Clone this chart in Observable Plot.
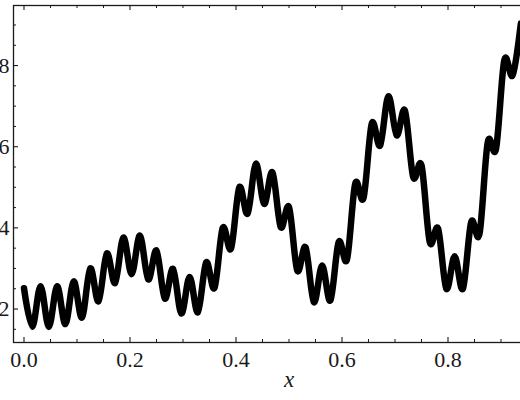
<!DOCTYPE html>
<html>
<head>
<meta charset="utf-8">
<script src="https://cdn.jsdelivr.net/npm/d3@7"></script>
<script src="https://cdn.jsdelivr.net/npm/@observablehq/plot@0.6"></script>
<style>
  html, body { margin: 0; padding: 0; background: white; overflow: hidden; width: 520px; height: 400px; }
  #chart { width: 520px; height: 400px; overflow: hidden; }
  #chart svg { display: block; margin-left: -30px; max-width: none !important; width: 584px; height: 400px !important; }
</style>
</head>
<body>
<div id="chart"></div>
<script>
// x positions of the curve's peaks and troughs
const xValues = [0, 0.015625, 0.03125, 0.046875, 0.0625, 0.078125, 0.09375, 0.109375, 0.125, 0.140625,
  0.15625, 0.171875, 0.1875, 0.203125, 0.21875, 0.234375, 0.25, 0.265625, 0.28125, 0.296875,
  0.3125, 0.328125, 0.34375, 0.359375, 0.375, 0.390625, 0.40625, 0.421875, 0.4375, 0.453125,
  0.46875, 0.484375, 0.5, 0.515625, 0.53125, 0.546875, 0.5625, 0.578125, 0.59375, 0.609375,
  0.625, 0.640625, 0.65625, 0.671875, 0.6875, 0.703125, 0.71875, 0.734375, 0.75, 0.765625,
  0.78125, 0.796875, 0.8125, 0.828125, 0.84375, 0.859375, 0.875, 0.890625, 0.90625, 0.921875,
  0.9375];
// y values at those positions (estimated)
const yValues = [0.251, 0.156, 0.256, 0.156, 0.256, 0.163, 0.268, 0.179, 0.300, 0.219,
  0.337, 0.264, 0.376, 0.286, 0.381, 0.273, 0.344, 0.226, 0.299, 0.189,
  0.279, 0.192, 0.315, 0.252, 0.400, 0.349, 0.500, 0.435, 0.558, 0.459,
  0.537, 0.402, 0.451, 0.295, 0.352, 0.217, 0.307, 0.221, 0.365, 0.322,
  0.509, 0.474, 0.657, 0.603, 0.724, 0.628, 0.689, 0.525, 0.554, 0.365,
  0.398, 0.250, 0.330, 0.250, 0.414, 0.385, 0.611, 0.595, 0.813, 0.776,
  0.904];

const xMajorTicks = [0.0, 0.2, 0.4, 0.6, 0.8];
const xMinorTicks = [0.05, 0.1, 0.15, 0.25, 0.3, 0.35, 0.45, 0.5, 0.55, 0.65, 0.7, 0.75, 0.85, 0.9, 0.95];
const yMajorTicks = [0.2, 0.4, 0.6, 0.8];
const yMinorTicks = [0.15, 0.25, 0.3, 0.35, 0.45, 0.5, 0.55, 0.65, 0.7, 0.75, 0.85, 0.9];
const xTickLabels = ["0.0", "0.2", "0.4", "0.6", "0.8"];
const yTickLabels = ["0.2", "0.4", "0.6", "0.8"];
const xAxisLabel = "x";

const points = xValues.map((x, i) => ({x, y: yValues[i]}));

const W = 584, H = 400;
const mL = 43, mR = 0.5, mT = 5, mB = 58;
const frameW = W - mL - mR, frameH = H - mT - mB;
const ink = "#1a1a1a";
const font = "'Liberation Serif', 'Times New Roman', 'DejaVu Serif', serif";

const chart = Plot.plot({
  width: W,
  height: H,
  marginLeft: mL,
  marginRight: mR,
  marginTop: mT,
  marginBottom: mB,
  style: {background: "white", fontFamily: font, color: ink, maxWidth: "none"},
  x: {domain: [-0.0198, 1.0], axis: null},
  y: {domain: [0.1175, 0.948], axis: null},
  marks: [
    Plot.frame({stroke: ink, strokeWidth: 1.3}),
    // bottom ticks (inward)
    Plot.tickX(xMajorTicks, {x: d => d, insetTop: frameH - 5, stroke: ink, strokeWidth: 1.1}),
    Plot.tickX(xMinorTicks, {x: d => d, insetTop: frameH - 3, stroke: ink, strokeWidth: 1}),
    // top ticks (inward)
    Plot.tickX(xMajorTicks, {x: d => d, insetBottom: frameH - 5, stroke: ink, strokeWidth: 1.1}),
    Plot.tickX(xMinorTicks, {x: d => d, insetBottom: frameH - 3, stroke: ink, strokeWidth: 1}),
    // left ticks (inward)
    Plot.tickY(yMajorTicks, {y: d => d, insetRight: frameW - 5, stroke: ink, strokeWidth: 1.1}),
    Plot.tickY(yMinorTicks, {y: d => d, insetRight: frameW - 3, stroke: ink, strokeWidth: 1}),
    // tick labels
    Plot.text(xMajorTicks, {x: d => d, text: (d, i) => xTickLabels[i], frameAnchor: "bottom", lineAnchor: "top", dy: 9, fontSize: 22, fill: ink}),
    Plot.text(yMajorTicks, {y: d => d, text: (d, i) => yTickLabels[i], frameAnchor: "left", textAnchor: "end", dx: -4, fontSize: 22, fill: ink}),
    // axis label
    Plot.text([0.5], {x: d => d, text: () => xAxisLabel, frameAnchor: "bottom", dy: 44, fontSize: 23, fontStyle: "italic", fill: ink}),
    // the curve
    Plot.line(points, {x: "x", y: "y", curve: "cardinal", tension: 0, stroke: "black", strokeWidth: 6.5, strokeLinejoin: "round", strokeLinecap: "round"})
  ]
});
document.getElementById("chart").appendChild(chart);
</script>
</body>
</html>
